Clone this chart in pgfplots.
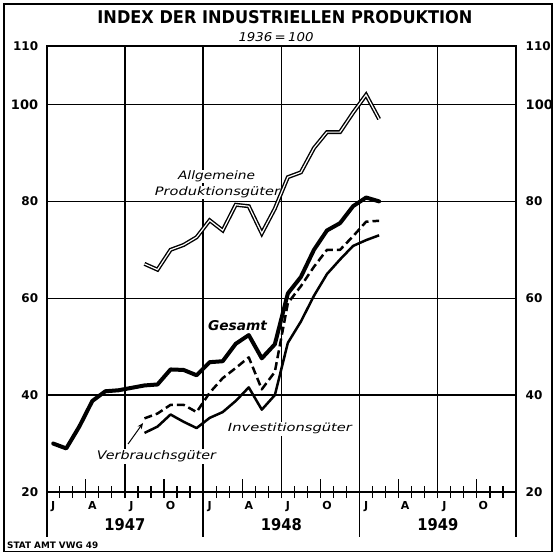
\documentclass[border=0pt]{standalone}
\usepackage{pgfplots}
\pgfplotsset{compat=1.18}
\usepackage{pgfplotstable}
\usepackage{fontspec}
\setmainfont{DejaVu Sans}
\usepackage{graphicx}
\usetikzlibrary{arrows.meta}

\pgfplotstableread{
m v
0.5 30
1.5 29
2.5 33.5
3.5 38.8
4.5 40.8
5.5 41
6.5 41.5
7.5 42
8.5 42.2
9.5 45.3
10.5 45.2
11.5 44.1
12.5 46.8
13.5 47
14.5 50.6
15.5 52.4
16.5 47.6
17.5 50.5
18.5 61
19.5 64.4
20.5 70
21.5 74
22.5 75.5
23.5 79
24.5 80.8
25.5 80
}\gesamt

\pgfplotstableread{
m v
7.5 35.2
8.5 36.2
9.5 38
10.5 38
11.5 36.5
12.5 40.5
13.5 43.5
14.5 45.6
15.5 47.8
16.5 41.2
17.5 44.8
18.5 59
19.5 62.5
20.5 66.5
21.5 70
22.5 70
23.5 72.8
24.5 75.8
25.5 76
}\verbrauch

\pgfplotstableread{
m v
7.5 32.2
8.5 33.5
9.5 36
10.5 34.5
11.5 33.2
12.5 35.3
13.5 36.5
14.5 38.8
15.5 41.6
16.5 37
17.5 40
18.5 50.8
19.5 55.2
20.5 60.5
21.5 65
22.5 68
23.5 70.8
24.5 72
25.5 73
}\invest

\pgfplotstableread{
m v
7.5 67.1
8.5 65.9
9.5 70
10.5 71
11.5 72.6
12.5 76.1
13.5 74
14.5 79.3
15.5 79
16.5 73.4
17.5 78.5
18.5 85
19.5 86
20.5 91
21.5 94.3
22.5 94.3
23.5 98.3
24.5 102
25.5 97
}\allgemein

\begin{document}
\begin{tikzpicture}[x=1pt,y=1pt]
\useasboundingbox (0,0) rectangle (556,555);
\draw[line width=1.5pt] (4,3.5) rectangle (552,551);

\begin{axis}[
  at={(46.7pt,63pt)}, anchor=south west,
  scale only axis, width=469.3pt, height=446pt,
  xmin=0, xmax=36, ymin=20, ymax=112.08,
  clip=false,
  axis line style={line width=1.8pt, black},
  major tick length=0pt,
  minor tick length=12pt,
  tick align=center,
  xtick pos=bottom, ytick pos=left,
  tick style={line width=1.2pt, black},
  xtick={0.5,3.5,6.5,9.5,12.5,15.5,18.5,21.5,24.5,27.5,30.5,33.5},
  xticklabels={J,A,J,O,J,A,J,O,J,A,J,O},
  xticklabel style={font=\bfseries\fontsize{11}{11}\selectfont, anchor=north, inner sep=0pt, yshift=-9pt},
  minor xtick={0,1,...,36},
  extra x ticks={6,12,18,24,30},
  extra x tick labels={},
  extra x tick style={grid=major, major tick length=12pt},
  ytick={40,60,80,112.08},
  yticklabels={\textbf{40},\textbf{60},\textbf{80},\textbf{110}},
  extra y ticks={20,100},
  extra y tick labels={\textbf{20},{\fontsize{13}{13}\selectfont\textbf{100}}},
  extra y tick style={grid=major, major grid style={line width=1.6pt, black}},
  ymajorgrids,
  major grid style={line width=1.35pt, black},
  yticklabel style={font=\bfseries\fontsize{12}{12}\selectfont, anchor=east, inner sep=0pt, xshift=-8.4pt},
]
% series labels (white background interrupts the grid)
\node[anchor=base, fill=white, inner sep=1pt] at (axis cs:13.03,84.55) {\resizebox{77pt}{8.8pt}{\itshape Allgemeine}};
\node[anchor=base, fill=white, inner sep=1pt] at (axis cs:13.1,81.17) {\resizebox{125pt}{8.8pt}{\itshape Produktionsgüter}};
\node[anchor=base, fill=white, inner sep=1.5pt] at (axis cs:14.64,53.44) {\resizebox{59pt}{10pt}{\bfseries\itshape Gesamt}};
\node[anchor=base, fill=white, inner sep=1.5pt] at (axis cs:18.66,32.39) {\resizebox{124pt}{8.5pt}{\itshape Investitionsgüter}};
\node[anchor=base, fill=white, inner sep=1.5pt] at (axis cs:8.42,26.61) {\resizebox{119pt}{9pt}{\itshape Verbrauchsgüter}};
\draw[-{Stealth[length=6pt,width=5pt]}, line width=1pt] (axis cs:6.24,29.91) -- (axis cs:7.39,34.24);

\addplot[draw=black, line width=1.4pt, double=white, double distance=1.2pt, line join=miter] table[x=m,y=v] {\allgemein};
\addplot[black, line width=2.5pt, line join=round] table[x=m,y=v] {\invest};
\addplot[black, line width=2.5pt, dash pattern=on 8pt off 4pt, line join=round] table[x=m,y=v] {\verbrauch};
\addplot[black, line width=4pt, line join=round, line cap=round] table[x=m,y=v] {\gesamt};

% year separators and year labels
\draw[line width=1.6pt] (axis cs:0,20) -- (axis cs:0,10.71);
\draw[line width=1.6pt] (axis cs:12,20) -- (axis cs:12,10.71);
\draw[line width=1.6pt] (axis cs:24,20) -- (axis cs:24,10.71);
\draw[line width=1.6pt] (axis cs:36,20) -- (axis cs:36,10.71);
\node[anchor=base, inner sep=0pt, yshift=-38.7pt] at (axis cs:6,20) {\resizebox{41pt}{12pt}{\bfseries 1947}};
\node[anchor=base, inner sep=0pt, yshift=-38.7pt] at (axis cs:18,20) {\resizebox{41pt}{12pt}{\bfseries 1948}};
\node[anchor=base, inner sep=0pt, yshift=-38.7pt] at (axis cs:30,20) {\resizebox{41pt}{12pt}{\bfseries 1949}};
\end{axis}

\begin{axis}[
  at={(46.7pt,63pt)}, anchor=south west,
  scale only axis, width=469.3pt, height=446pt,
  xmin=0, xmax=36, ymin=20, ymax=112.08,
  axis x line*=bottom, axis y line*=right,
  axis line style={draw=none},
  major tick length=0pt,
  xtick=\empty,
  extra x ticks={3,9,15,21,27,33},
  extra x tick labels={},
  extra x tick style={major tick length=13pt, tick align=inside, tick style={line width=1.2pt, black}},
  ytick={20,40,60,80,100,112.08},
  yticklabels={\textbf{20},\textbf{40},\textbf{60},\textbf{80},{\fontsize{13}{13}\selectfont\textbf{100}},\textbf{110}},
  yticklabel style={font=\bfseries\fontsize{12}{12}\selectfont, anchor=west, inner sep=0pt, xshift=9.5pt},
]
\end{axis}

\node[anchor=base, inner sep=0pt] at (285,531) {\resizebox{375pt}{13pt}{\bfseries INDEX DER INDUSTRIELLEN PRODUKTION}};
\node[anchor=base, inner sep=0pt] at (276,513) {\resizebox{75pt}{9pt}{\itshape 1936\,=\,100}};
\node[anchor=base west, inner sep=0pt] at (7,6.7) {\resizebox{91pt}{6.6pt}{\bfseries STAT AMT VWG 49}};
\end{tikzpicture}
\end{document}
